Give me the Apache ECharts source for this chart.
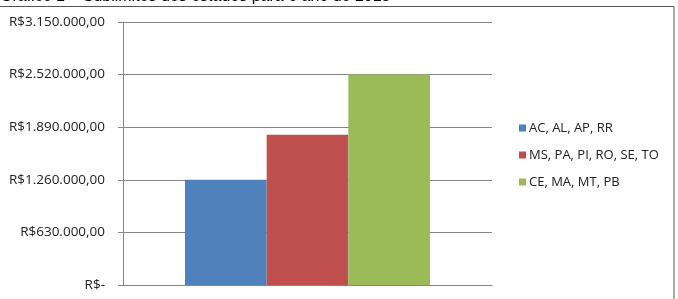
<!DOCTYPE html>
<html>
<head>
<meta charset="utf-8">
<script src="https://cdn.jsdelivr.net/npm/echarts@6/dist/echarts.min.js"></script>
<style>html,body{margin:0;padding:0;background:#fff}#c{width:678px;height:299px}</style>
</head>
<body>
<div id="c"></div>
<script>
const titleText = 'Gráfico 1 – Sublimites dos estados para o ano de 2015';
const categories = [''];
const seriesNames = ['AC, AL, AP, RR', 'MS, PA, PI, RO, SE, TO', 'CE, MA, MT, PB'];
const seriesValues = [[1260000], [1800000], [2520000]];
const seriesColors = ['#4f81bd', '#c0504d', '#9bbb59'];
const yMin = 0, yMax = 3150000, yInterval = 630000;

function fmt(v) {
  if (v === 0) return 'R$-';
  const s = Math.round(v).toString().replace(/\B(?=(\d{3})+(?!\d))/g, '.');
  return 'R$' + s + ',00';
}

const chart = echarts.init(document.getElementById('c'), null, {renderer: 'canvas'});
chart.setOption({
  animation: false,
  textStyle: {fontFamily: 'Open Sans'},
  grid: {left: 123, right: 186, top: 22, bottom: 14, containLabel: false},
  xAxis: {
    type: 'category', data: categories,
    axisLine: {lineStyle: {color: '#868686'}},
    axisTick: {show: false}, axisLabel: {show: false}
  },
  yAxis: {
    type: 'value', min: yMin, max: yMax, interval: yInterval,
    axisLine: {show: true, lineStyle: {color: '#868686'}},
    axisTick: {show: true, length: 5, lineStyle: {color: '#868686'}},
    splitLine: {lineStyle: {color: '#868686'}},
    axisLabel: {formatter: fmt, color: '#222', fontSize: 13.5, margin: 18, fontFamily: 'Open Sans'}
  },
  legend: {
    orient: 'vertical', left: 514, top: 114, icon: 'rect',
    itemWidth: 7, itemHeight: 7, itemGap: 9,
    textStyle: {color: '#222', fontSize: 13, fontFamily: 'Open Sans', lineHeight: 18, padding: [0, 0, 0, -2]},
    data: seriesNames
  },
  series: seriesNames.map((n, i) => ({
    name: n, type: 'bar', data: seriesValues[i],
    itemStyle: {color: seriesColors[i]},
    barGap: '0%', barCategoryGap: '33.6%'
  })),
  graphic: [
    {type: 'rect', shape: {x: -2, y: 6.5, width: 676, height: 300}, style: {fill: 'none', stroke: '#555', lineWidth: 1}, z: 100},
    {type: 'text', left: 0, top: -11, style: {text: titleText, fill: '#000', font: '16px "Liberation Sans"'}, z: 101}
  ]
});
</script>
</body>
</html>
